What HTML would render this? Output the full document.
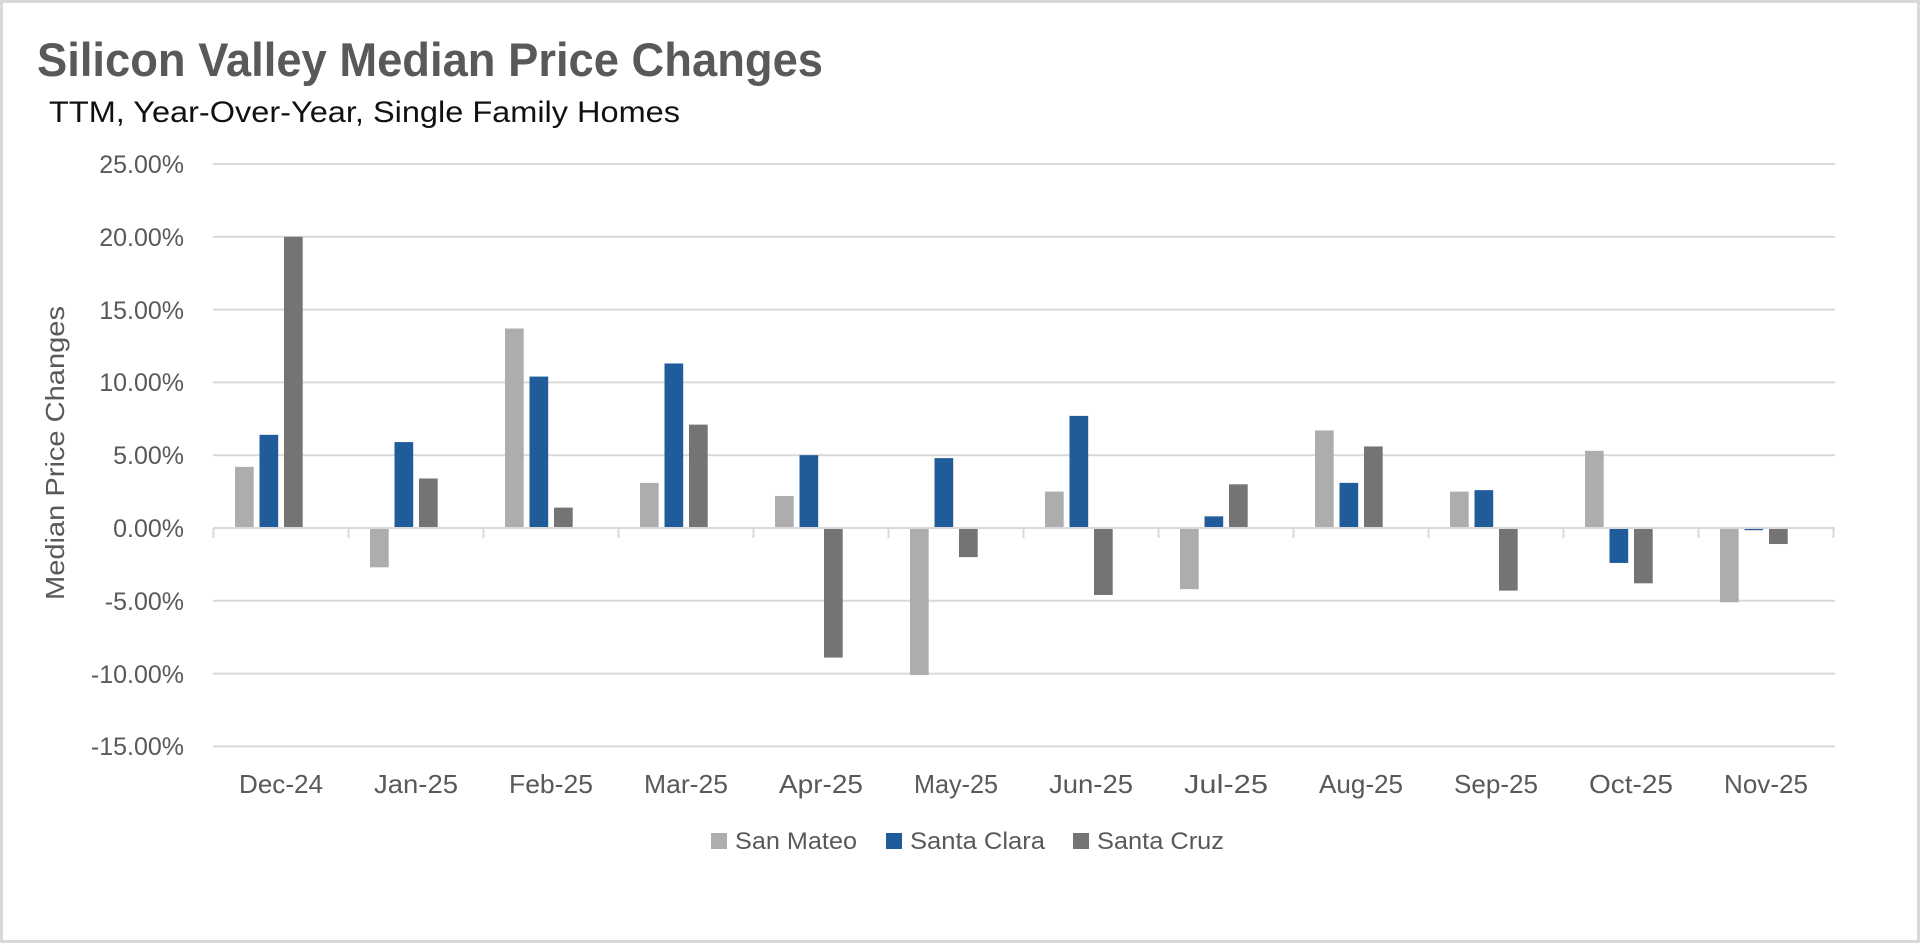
<!DOCTYPE html>
<html><head><meta charset="utf-8"><style>
html,body{margin:0;padding:0;background:#fff;}
svg{display:block;}
text{font-family:"Liberation Sans Narrow","Liberation Sans",sans-serif;}
</style></head><body>
<svg width="1920" height="943" viewBox="0 0 1920 943" xmlns="http://www.w3.org/2000/svg">
<rect x="1.5" y="1.5" width="1917" height="940" fill="#fff" stroke="#d9d9d9" stroke-width="3"/>
<text x="37" y="76" font-size="47" font-weight="bold" fill="#595959" textLength="786" lengthAdjust="spacingAndGlyphs">Silicon Valley Median Price Changes</text>
<text x="49" y="122" font-size="30" fill="#111" textLength="631" lengthAdjust="spacingAndGlyphs">TTM, Year-Over-Year, Single Family Homes</text>
<g stroke="#d9d9d9" stroke-width="2">
<line x1="213" x2="1835" y1="164" y2="164"/>
<line x1="213" x2="1835" y1="236.8" y2="236.8"/>
<line x1="213" x2="1835" y1="309.6" y2="309.6"/>
<line x1="213" x2="1835" y1="382.4" y2="382.4"/>
<line x1="213" x2="1835" y1="455.2" y2="455.2"/>
<line x1="213" x2="1835" y1="600.8" y2="600.8"/>
<line x1="213" x2="1835" y1="673.6" y2="673.6"/>
<line x1="213" x2="1835" y1="746.4" y2="746.4"/>
</g>
<g fill="#595959" font-size="25" text-anchor="end">
<text x="184" y="173">25.00%</text>
<text x="184" y="246">20.00%</text>
<text x="184" y="319">15.00%</text>
<text x="184" y="391">10.00%</text>
<text x="184" y="464">5.00%</text>
<text x="184" y="537">0.00%</text>
<text x="184" y="610">-5.00%</text>
<text x="184" y="683">-10.00%</text>
<text x="184" y="755">-15.00%</text>
</g>
<text transform="translate(64,453) rotate(-90)" text-anchor="middle" font-size="26" fill="#595959" style="font-family:'Liberation Sans',sans-serif" textLength="294" lengthAdjust="spacingAndGlyphs">Median Price Changes</text>
<g id="bars"></g>
<line x1="213" x2="1835" y1="528" y2="528" stroke="#d9d9d9" stroke-width="2"/>
<g id="ticks" stroke="#d9d9d9" stroke-width="2"></g>
<g id="xl" fill="#595959" font-size="26" text-anchor="middle"></g>
<rect x="711" y="833" width="16" height="16" fill="#adadad"/>
<text x="735" y="849" font-size="24" fill="#595959" textLength="122" lengthAdjust="spacingAndGlyphs">San Mateo</text>
<rect x="886" y="833" width="16" height="16" fill="#1f5c99"/>
<text x="910" y="849" font-size="24" fill="#595959" textLength="135" lengthAdjust="spacingAndGlyphs">Santa Clara</text>
<rect x="1073" y="833" width="16" height="16" fill="#747474"/>
<text x="1097" y="849" font-size="24" fill="#595959" textLength="127" lengthAdjust="spacingAndGlyphs">Santa Cruz</text>
</svg>
<script>
var data=[[4.2,6.4,20.0],[-2.7,5.9,3.4],[13.7,10.4,1.4],[3.1,11.3,7.1],[2.2,5.0,-8.9],[-10.1,4.8,-2.0],[2.5,7.7,-4.6],[-4.2,0.8,3.0],[6.7,3.1,5.6],[2.5,2.6,-4.3],[5.3,-2.4,-3.8],[-5.1,-0.15,-1.1]];
var labels=["Dec-24","Jan-25","Feb-25","Mar-25","Apr-25","May-25","Jun-25","Jul-25","Aug-25","Sep-25","Oct-25","Nov-25"];
var cols=["#adadad","#1f5c99","#747474"];
var ns="http://www.w3.org/2000/svg",b=document.getElementById("bars"),t=document.getElementById("ticks"),xl=document.getElementById("xl");
var left=213.5,cw=135,zero=528,k=14.56;
function el(n,a,p){var e=document.createElementNS(ns,n);for(var q in a)e.setAttribute(q,a[q]);p.appendChild(e);return e;}
for(var i=0;i<12;i++){var cs=left+i*cw;
for(var j=0;j<3;j++){var v=data[i][j],h=Math.abs(v)*k;
el("rect",{x:cs+21.5+j*24.5,y:v>=0?zero-h:zero,width:18.7,height:Math.max(h,1.5),fill:cols[j]},b);}
el("line",{x1:cs,x2:cs,y1:528,y2:538},t);
var tx=el("text",{x:cs+cw/2,y:793,textLength:84,lengthAdjust:"spacingAndGlyphs"},xl);tx.textContent=labels[i];}
el("line",{x1:left+12*cw,x2:left+12*cw,y1:528,y2:538},t);
</script>
</body></html>
